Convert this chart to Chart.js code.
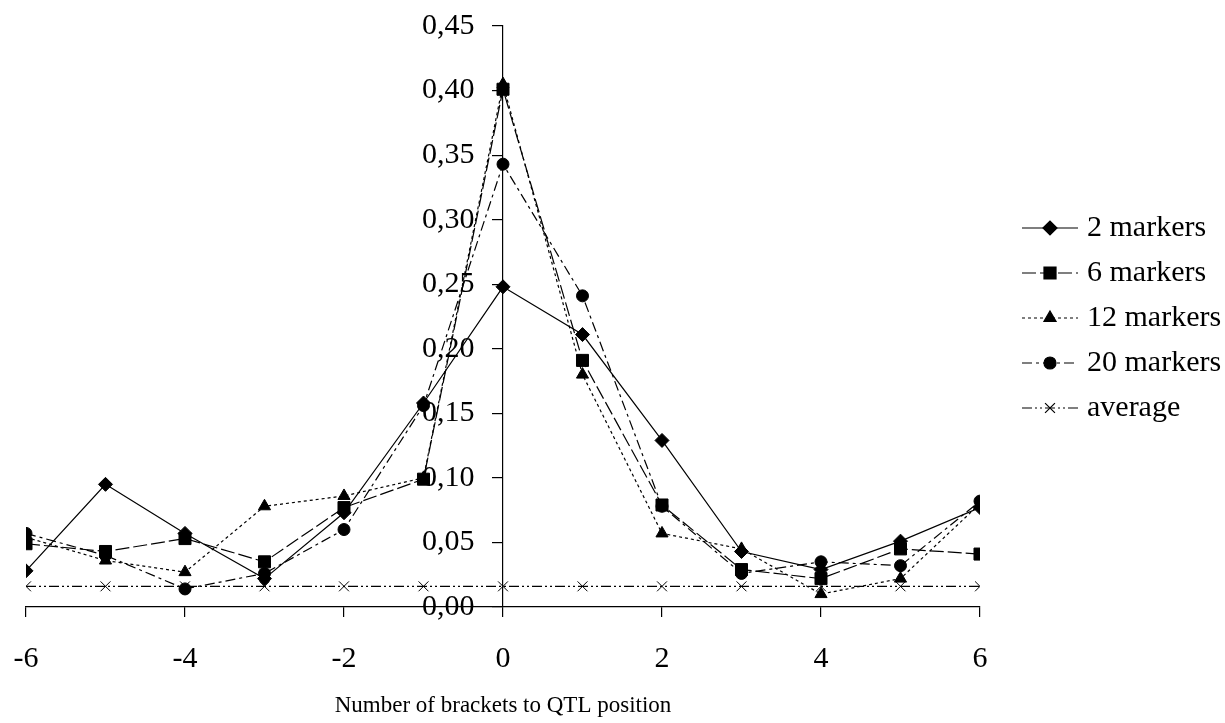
<!DOCTYPE html>
<html>
<head>
<meta charset="utf-8">
<title>QTL brackets</title>
<script src="https://cdn.jsdelivr.net/npm/chart.js@4/dist/chart.umd.min.js"></script>
<style>
  html, body { margin: 0; padding: 0; background: #fff; }
  #wrap { width: 1225px; height: 723px; position: relative; }
</style>
</head>
<body>
<div id="wrap"><canvas id="c"></canvas></div>
<script>
// brackets to QTL position (x) and proportion per marker density
var XS   = [-6, -5, -4, -3, -2, -1, 0, 1, 2, 3, 4, 5, 6];
var M2   = [0.028, 0.095, 0.057, 0.022, 0.073, 0.158, 0.248, 0.211, 0.129, 0.043, 0.029, 0.051, 0.077];
var M6   = [0.049, 0.043, 0.053, 0.035, 0.077, 0.099, 0.401, 0.191, 0.079, 0.029, 0.022, 0.045, 0.041];
var M12  = [0.054, 0.036, 0.027, 0.078, 0.086, 0.100, 0.405, 0.180, 0.057, 0.045, 0.010, 0.022, 0.080];
var M20  = [0.057, 0.040, 0.014, 0.026, 0.060, 0.156, 0.343, 0.241, 0.078, 0.026, 0.035, 0.032, 0.082];
var AVG  = [0.016, 0.016, 0.016, 0.016, 0.016, 0.016, 0.016, 0.016, 0.016, 0.016, 0.016, 0.016, 0.016];
var LABELS = ['2 markers', '6 markers', '12 markers', '20 markers', 'average'];
var X_TICK_STEP = 2, Y_MAX = 0.45, Y_STEP = 0.05;

var FONT = '"Liberation Serif", "Times New Roman", serif';

function pts(ys) { return XS.map(function (x, i) { return { x: x, y: ys[i] }; }); }

function series(label, ys, style, radius, dash) {
  return {
    label: label, data: pts(ys),
    borderColor: '#000', backgroundColor: '#000', borderWidth: 1.2,
    borderDash: dash, pointStyle: style, pointRadius: radius,
    pointBorderColor: '#000', pointBackgroundColor: '#000', pointBorderWidth: 1,
    tension: 0, fill: false
  };
}

var datasets = [
  series(LABELS[0], M2, 'rectRot', 7, []),
  series(LABELS[1], M6, 'rect', 8.5, [14, 4]),
  series(LABELS[2], M12, 'triangle', 7, [3, 3]),
  series(LABELS[3], M20, 'circle', 6, [10, 4, 3, 4]),
  series(LABELS[4], AVG, 'crossRot', 7, [10, 3, 2, 3, 2, 3])
];

// legend drawn by hand: dashed line with the marker in the middle
var sideLegend = {
  id: 'sideLegend',
  afterDraw: function (chart) {
    var ctx = chart.ctx;
    var x0 = 1022, x1 = 1078, tx = 1087, y0 = 228, gap = 45;
    ctx.save();
    chart.data.datasets.forEach(function (ds, i) {
      var y = y0 + i * gap;
      ctx.strokeStyle = '#000';
      ctx.lineWidth = 1.2;
      ctx.setLineDash(ds.borderDash || []);
      ctx.beginPath(); ctx.moveTo(x0, y); ctx.lineTo(x1, y); ctx.stroke();
      ctx.setLineDash([]);
      Chart.helpers.drawPoint(ctx, {
        pointStyle: ds.pointStyle, radius: ds.pointRadius, borderWidth: 1, rotation: 0
      }, (x0 + x1) / 2, y);
      ctx.fillStyle = '#000';
      ctx.font = '30px ' + FONT;
      ctx.textBaseline = 'middle';
      ctx.textAlign = 'left';
      ctx.fillText(ds.label, tx, y);
    });
    ctx.restore();
  }
};

new Chart(document.getElementById('c').getContext('2d'), {
  type: 'line',
  data: { datasets: datasets },
  plugins: [sideLegend],
  options: {
    responsive: true, maintainAspectRatio: false, animation: false,
    layout: { padding: { left: 26, right: 245, top: 26, bottom: 0 } },
    plugins: { legend: { display: false }, tooltip: { enabled: false } },
    scales: {
      x: {
        type: 'linear', min: XS[0], max: XS[XS.length - 1],
        border: { display: true, color: '#000', width: 1.2 },
        grid: { drawOnChartArea: false, drawTicks: true, tickLength: 10, color: '#000', lineWidth: 1.2 },
        // tall line height pushes the labels down without widening the side padding
        ticks: { stepSize: X_TICK_STEP, color: '#000', padding: 3, font: { family: FONT, size: 30, lineHeight: 2.6 } },
        title: { display: true, text: 'Number of brackets to QTL position', color: '#000',
                 padding: { top: -7, bottom: 6 }, font: { family: FONT, size: 23, lineHeight: 1 } }
      },
      y: {
        type: 'linear', position: { x: 0 }, min: 0, max: Y_MAX,
        border: { display: true, color: '#000', width: 1.2 },
        grid: { drawOnChartArea: false, drawTicks: true, tickLength: 10, color: '#000', lineWidth: 1.2 },
        ticks: {
          stepSize: Y_STEP, color: '#000', font: { family: FONT, size: 30 },
          // labels sit right on the axis when it is placed at x = 0, so pad with spaces
          callback: function (v) { return v.toFixed(2).replace('.', ',') + '   \u2009'; }
        }
      }
    }
  }
});
</script>
</body>
</html>
